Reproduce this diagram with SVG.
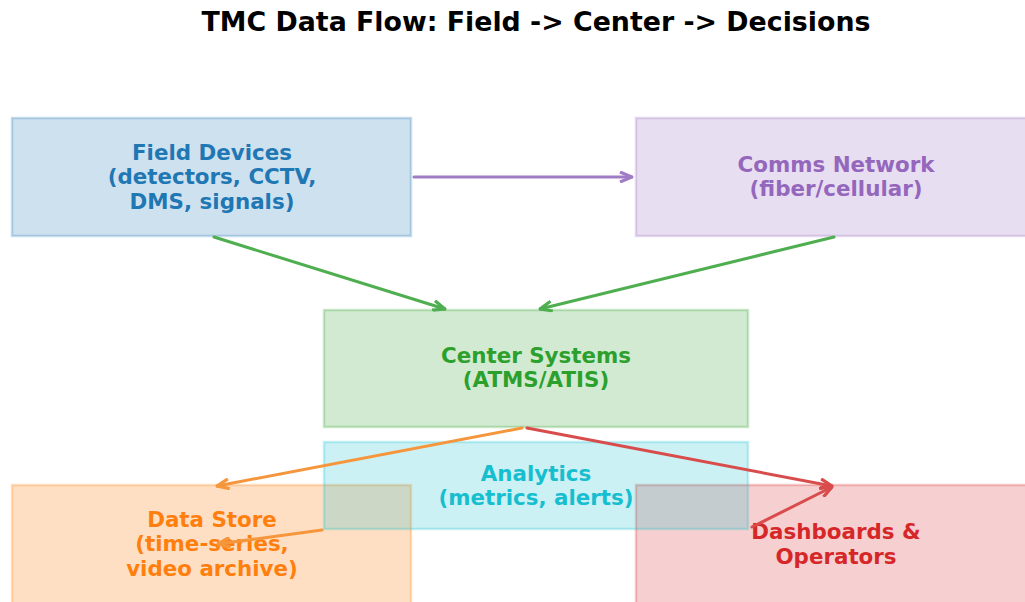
<svg xmlns="http://www.w3.org/2000/svg" width="1025" height="602" viewBox="0 0 1025 602">
<style>
text{font-family:"DejaVu Sans","Liberation Sans",sans-serif;font-weight:bold;text-anchor:middle}
.t{font-size:21.4px}
.title{font-size:26.8px;fill:#000}
.box{stroke-width:2.5}
.c{fill:none;stroke-width:3;stroke-linecap:round}
</style>
<defs>
<marker id="mp" markerUnits="userSpaceOnUse" viewBox="0 0 14 12" refX="13" refY="6" markerWidth="14" markerHeight="12" orient="auto"><path d="M1,1 L13,6 L1,11" fill="none" stroke="#a07cc6" stroke-width="3.2"/></marker>
<marker id="mg" markerUnits="userSpaceOnUse" viewBox="0 0 14 12" refX="13" refY="6" markerWidth="14" markerHeight="12" orient="auto"><path d="M1,1 L13,6 L1,11" fill="none" stroke="#4fae4f" stroke-width="3.2"/></marker>
<marker id="mo" markerUnits="userSpaceOnUse" viewBox="0 0 14 12" refX="13" refY="6" markerWidth="14" markerHeight="12" orient="auto"><path d="M1,1 L13,6 L1,11" fill="none" stroke="#f5963c" stroke-width="3.2"/></marker>
<marker id="mr" markerUnits="userSpaceOnUse" viewBox="0 0 14 12" refX="13" refY="6" markerWidth="14" markerHeight="12" orient="auto"><path d="M1,1 L13,6 L1,11" fill="none" stroke="#d94c4c" stroke-width="3.2"/></marker>
</defs>
<rect width="1025" height="602" fill="#fff"/>
<text class="title" x="536" y="31">TMC Data Flow: Field -&gt; Center -&gt; Decisions</text>

<g id="field">
<rect class="box" x="12" y="118" width="399" height="118" fill="#1f77b4" fill-opacity="0.22" stroke="#1f77b4" stroke-opacity="0.25"/>
<text class="t" fill="#1f77b4"><tspan x="212" y="160">Field Devices</tspan><tspan x="212" y="184">(detectors, CCTV,</tspan><tspan x="212" y="209">DMS, signals)</tspan></text>
</g>
<g id="comms">
<rect class="box" x="636" y="118" width="400" height="118" fill="#9467bd" fill-opacity="0.22" stroke="#9467bd" stroke-opacity="0.25"/>
<text class="t" fill="#9467bd"><tspan x="836" y="172">Comms Network</tspan><tspan x="836" y="196">(fiber/cellular)</tspan></text>
</g>
<g id="center">
<rect class="box" x="324" y="310" width="424" height="117" fill="#2ca02c" fill-opacity="0.22" stroke="#2ca02c" stroke-opacity="0.25"/>
<text class="t" fill="#2ca02c"><tspan x="536" y="363">Center Systems</tspan><tspan x="536" y="387">(ATMS/ATIS)</tspan></text>
</g>
<g id="datastore">
<rect class="box" x="12" y="485" width="399" height="130" fill="#ff7f0e" fill-opacity="0.25" stroke="#ff7f0e" stroke-opacity="0.25"/>
<text class="t" fill="#ff7f0e"><tspan x="212" y="527">Data Store</tspan><tspan x="212" y="551">(time-series,</tspan><tspan x="212" y="576">video archive)</tspan></text>
</g>
<g id="dashboards">
<rect class="box" x="636" y="485" width="400" height="130" fill="#d62728" fill-opacity="0.22" stroke="#d62728" stroke-opacity="0.25"/>
<text class="t" fill="#d62728"><tspan x="836" y="539">Dashboards &amp;</tspan><tspan x="836" y="564">Operators</tspan></text>
</g>
<g id="analytics">
<rect class="box" x="324" y="442" width="424" height="87" fill="#17becf" fill-opacity="0.22" stroke="#17becf" stroke-opacity="0.25"/>
<text class="t" fill="#17becf"><tspan x="536" y="481">Analytics</tspan><tspan x="536" y="505">(metrics, alerts)</tspan></text>
</g>

<g id="connectors">
<line class="c" x1="414" y1="177" x2="632" y2="177" stroke="#a07cc6" marker-end="url(#mp)"/>
<line class="c" x1="214" y1="237" x2="445" y2="309" stroke="#4fae4f" marker-end="url(#mg)"/>
<line class="c" x1="834" y1="237" x2="540" y2="309" stroke="#4fae4f" marker-end="url(#mg)"/>
<line class="c" x1="522" y1="428" x2="217" y2="486" stroke="#f5963c" marker-end="url(#mo)"/>
<line class="c" x1="527" y1="428" x2="832" y2="486" stroke="#d94c4c" marker-end="url(#mr)"/>
<line class="c" x1="322" y1="530" x2="218" y2="544" stroke="#f5963c" marker-end="url(#mo)"/>
<line class="c" x1="752" y1="527" x2="832" y2="487" stroke="#d94c4c" marker-end="url(#mr)"/>
</g>
</svg>
